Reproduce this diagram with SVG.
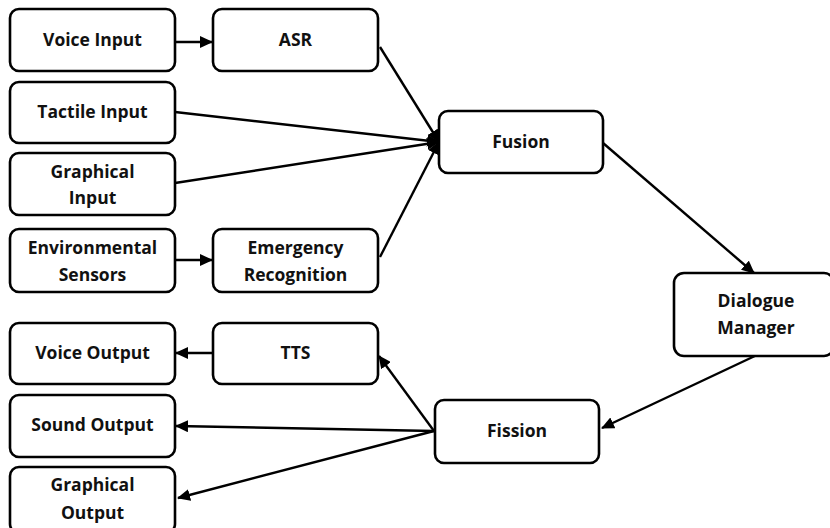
<svg xmlns="http://www.w3.org/2000/svg" width="830" height="528" viewBox="0 0 830 528">
<style>
.box{fill:#fff;stroke:#000;stroke-width:2.6}
.t{font-family:"Open Sans","Liberation Sans",sans-serif;font-weight:bold;font-size:17.5px;fill:#111;text-anchor:middle}
.c{stroke:#000;stroke-width:2.4;fill:none;marker-end:url(#ah)}
</style>
<defs>
<marker id="ah" markerUnits="userSpaceOnUse" markerWidth="14" markerHeight="12" viewBox="0 0 14 12" refX="12" refY="6" orient="auto">
<path d="M0,0 L13,6 L0,12 Z" fill="#000"/>
</marker>
</defs>
<g id="connectors">
<line class="c" x1="175" y1="42" x2="212" y2="42"/>
<line class="c" x1="175" y1="260" x2="212" y2="260"/>
<line class="c" x1="380" y1="47" x2="439" y2="142"/>
<line class="c" x1="175" y1="112" x2="439" y2="142"/>
<line class="c" x1="175" y1="183" x2="439" y2="142"/>
<line class="c" x1="380" y1="257" x2="439" y2="142"/>
<line class="c" x1="603" y1="143" x2="754" y2="273"/>
<line class="c" x1="757" y1="355" x2="602" y2="428"/>
<line class="c" x1="213" y1="353" x2="176" y2="353"/>
<line class="c" x1="434" y1="431" x2="379" y2="356"/>
<line class="c" x1="434" y1="431" x2="176" y2="426"/>
<line class="c" x1="434" y1="431" x2="178" y2="498"/>
</g>
<g id="voice-input"><rect class="box" x="10" y="9" width="165" height="62" rx="9"/><text class="t" x="92.5" y="46">Voice Input</text></g>
<g id="asr"><rect class="box" x="213" y="9" width="165" height="62" rx="9"/><text class="t" x="295.5" y="46">ASR</text></g>
<g id="tactile-input"><rect class="box" x="10" y="82" width="165" height="61" rx="9"/><text class="t" x="92.5" y="118">Tactile Input</text></g>
<g id="graphical-input"><rect class="box" x="10" y="153" width="165" height="62" rx="9"/><text class="t" x="92.5" y="178">Graphical</text><text class="t" x="92.5" y="204">Input</text></g>
<g id="environmental-sensors"><rect class="box" x="10" y="229" width="165" height="63" rx="9"/><text class="t" x="92.5" y="254">Environmental</text><text class="t" x="92.5" y="281">Sensors</text></g>
<g id="emergency-recognition"><rect class="box" x="213" y="229" width="165" height="63" rx="9"/><text class="t" x="295.5" y="254">Emergency</text><text class="t" x="295.5" y="281">Recognition</text></g>
<g id="fusion"><rect class="box" x="439" y="111" width="164" height="62" rx="9"/><text class="t" x="521" y="148">Fusion</text></g>
<g id="dialogue-manager"><rect class="box" x="674" y="273" width="160" height="83" rx="10"/><text class="t" x="756" y="307">Dialogue</text><text class="t" x="756" y="334">Manager</text></g>
<g id="fission"><rect class="box" x="435" y="400" width="164" height="63" rx="9"/><text class="t" x="517" y="437">Fission</text></g>
<g id="tts"><rect class="box" x="213" y="323" width="165" height="61" rx="9"/><text class="t" x="295.5" y="359">TTS</text></g>
<g id="voice-output"><rect class="box" x="10" y="323" width="165" height="61" rx="9"/><text class="t" x="92.5" y="359">Voice Output</text></g>
<g id="sound-output"><rect class="box" x="10" y="395" width="165" height="62" rx="9"/><text class="t" x="92.5" y="431">Sound Output</text></g>
<g id="graphical-output"><rect class="box" x="10" y="467" width="165" height="66" rx="9"/><text class="t" x="92.5" y="491">Graphical</text><text class="t" x="92.5" y="519">Output</text></g>
</svg>
